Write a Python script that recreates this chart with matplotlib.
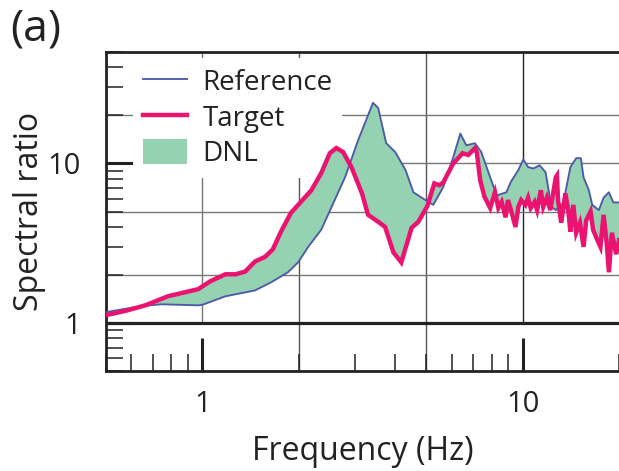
import numpy as np
import matplotlib
matplotlib.use('Agg')
import matplotlib.pyplot as plt
from matplotlib.lines import Line2D
from matplotlib.patches import Patch
from matplotlib.ticker import FixedLocator, LogLocator, NullFormatter, FuncFormatter

plt.rcParams['font.family'] = ['Open Sans', 'DejaVu Sans']

# Reference spectral ratio
ref_freq = [0.5, 0.643, 0.743, 0.97, 1.0, 1.18, 1.46, 1.64, 1.85, 1.99, 2.14, 2.35,
            2.79, 3.06, 3.41, 3.54, 3.75, 4.0, 4.31, 4.56, 4.97, 5.26, 5.65, 6.07,
            6.39, 6.67, 7.1, 7.43, 7.92, 8.3, 8.9, 9.2, 9.7, 10.05, 10.4, 10.8,
            11.3, 11.8, 12.3, 12.7, 13.4, 14.1, 14.7, 15.2, 15.5, 16.1, 16.5,
            17.3, 17.9, 18.6, 19.2, 20.0]
ref_ratio = [1.17, 1.275, 1.31, 1.29, 1.30, 1.47, 1.60, 1.80, 2.08, 2.40, 3.0, 3.84,
             8.2, 13.9, 24.0, 22.3, 13.4, 11.8, 9.1, 6.6, 5.9, 5.5, 7.1, 10.9,
             15.4, 13.0, 13.4, 11.8, 8.2, 6.3, 6.6, 7.7, 9.1, 10.6, 9.5, 9.3,
             9.75, 8.8, 5.35, 5.1, 5.65, 9.5, 10.8, 10.8, 8.2, 6.8, 5.5,
             5.1, 6.1, 6.6, 5.7, 5.7]

# Target spectral ratio
tgt_freq = [0.5, 0.574, 0.663, 0.78, 0.97, 1.06, 1.18, 1.27, 1.36, 1.46, 1.57, 1.66,
            1.76, 1.89, 2.19, 2.35, 2.5, 2.62, 2.75, 2.92, 3.15, 3.29, 3.54, 3.72,
            3.95, 4.18, 4.5, 4.72, 5.04, 5.3, 5.5, 5.65, 6.07, 6.5, 6.76, 7.1, 7.2,
            7.37, 7.6, 7.92, 8.2, 8.4, 8.6, 8.85, 9.0, 9.2, 9.5, 9.7, 9.9, 10.2,
            10.4, 10.6, 10.9, 11.1, 11.4, 11.6, 11.9, 12.2, 12.5, 12.7, 12.8, 12.9,
            13.2, 13.6, 13.9, 14.1, 14.4, 14.7, 15.1, 15.5, 15.8, 16.3, 16.6, 17.0,
            17.5, 17.9, 18.3, 18.6, 19.0, 19.6, 20.0]
tgt_ratio = [1.12, 1.19, 1.29, 1.47, 1.63, 1.83, 2.02, 2.02, 2.1, 2.43, 2.6, 2.9,
             3.74, 4.9, 6.8, 8.7, 11.6, 12.5, 11.8, 9.5, 6.5, 4.77, 4.31, 4.0,
             2.77, 2.4, 3.95, 4.3, 5.4, 7.5, 7.3, 7.6, 10.0, 11.6, 11.3, 12.5, 11.6,
             7.86, 6.2, 5.26, 6.6, 5.26, 5.74, 4.6, 5.9, 5.1, 4.0, 5.35, 5.9, 5.5,
             6.1, 5.26, 5.74, 5.1, 6.8, 5.35, 6.1, 5.1, 6.8, 8.2, 8.4, 5.9,
             4.25, 6.5, 5.0, 3.74, 5.5, 3.68, 4.25, 3.0, 4.4, 5.0, 3.84, 3.42,
             3.0, 4.76, 3.19, 2.08, 3.68, 2.7, 3.3]

blue = '#4d5aa6'
pink = '#ea1470'
green = '#95d2b2'

fig = plt.figure(figsize=(6.19, 4.71), dpi=100)
ax = fig.add_axes([106 / 619, 1 - 371 / 471, 513 / 619, 319 / 471])
ax.set_xscale('log')
ax.set_yscale('log')
ax.set_xlim(0.5, 20)
ax.set_ylim(0.5, 50)

# grid
for v in [2, 5]:
    ax.axvline(v, color='#555555', lw=1.0, zorder=1)
ax.vlines([1], 1, 50, color='#777777', lw=1.0, zorder=1)
ax.vlines([10], 1, 50, color='#222222', lw=1.0, zorder=1)
for h in [2, 5, 10, 20]:
    ax.axhline(h, color='#777777', lw=1.0, zorder=1)
ax.axhline(1, color='#222222', lw=2.3, zorder=4)

# DNL band between the two curves
poly_x = np.concatenate([ref_freq, tgt_freq[::-1]])
poly_y = np.concatenate([ref_ratio, tgt_ratio[::-1]])
ax.fill(poly_x, poly_y, color=green, lw=0, zorder=2)
ax.plot(ref_freq, ref_ratio, color=blue, lw=1.35, zorder=3)
ax.plot(tgt_freq, tgt_ratio, color=pink, lw=3.2, zorder=3, solid_joinstyle='miter')

# spines and ticks
for s in ['left', 'top', 'bottom']:
    ax.spines[s].set_linewidth(2.0)
    ax.spines[s].set_color('#222222')
ax.spines['right'].set_visible(False)

fmt = FuncFormatter(lambda v, p: f'{v:g}')
for axis in [ax.xaxis, ax.yaxis]:
    axis.set_major_locator(FixedLocator([1, 10]))
    axis.set_minor_locator(LogLocator(base=10, subs=np.arange(2, 10)))
    axis.set_major_formatter(fmt)
    axis.set_minor_formatter(NullFormatter())

ax.tick_params(which='both', direction='in', top=False, right=False, colors='#222222')
ax.tick_params(axis='x', which='major', length=24, width=2.2, labelsize=21, pad=14)
ax.tick_params(axis='x', which='minor', length=12, width=1.1)
ax.tick_params(axis='y', which='major', length=19.5, width=2.2, labelsize=21, pad=18)
ax.tick_params(axis='y', which='minor', length=12, width=1.1)

ax.set_xlabel('Frequency (Hz)', fontsize=23, color='#222222', labelpad=11)
ax.set_ylabel('Spectral ratio', fontsize=23, color='#222222', labelpad=1)

handles = [Line2D([], [], color=blue, lw=1.35),
           Line2D([], [], color=pink, lw=3.2),
           Patch(facecolor=green, edgecolor='none')]
leg = ax.legend(handles, ['Reference', 'Target', 'DNL'], loc='upper left',
                bbox_to_anchor=(133 / 619, 1 - 58 / 471), bbox_transform=fig.transFigure,
                borderaxespad=0, fontsize=20, frameon=True, fancybox=False,
                handlelength=1.6, handleheight=1.0, handletextpad=0.55,
                labelspacing=0.25, borderpad=0.35)
leg.get_frame().set_facecolor('white')
leg.get_frame().set_edgecolor('none')
leg.get_frame().set_alpha(1)
for t in leg.get_texts():
    t.set_color('#222222')
leg.set_zorder(1.5)

fig.text(10 / 619, 1 - 7 / 471, '(a)', fontsize=32, va='top', ha='left', color='#222222')

fig.savefig('out.png', dpi=100)
